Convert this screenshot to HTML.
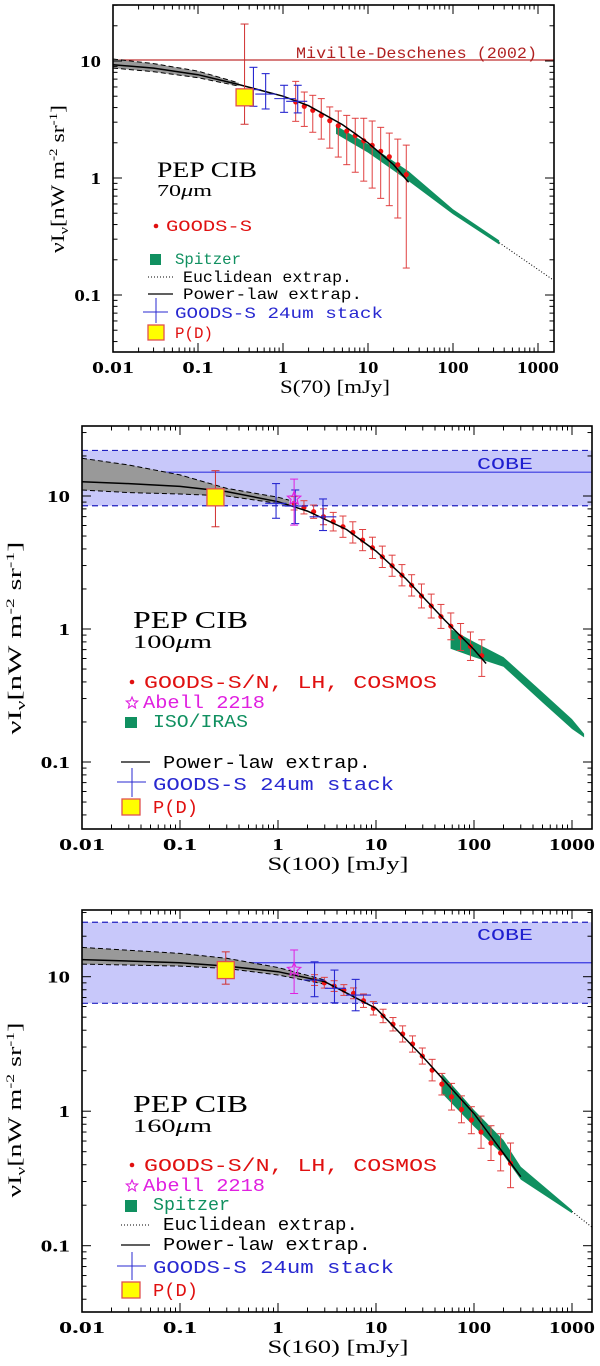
<!DOCTYPE html>
<html><head><meta charset="utf-8">
<style>
html,body{margin:0;padding:0;background:#fff;}
svg{display:block;}
text{font-family:"Liberation Serif",serif;}
.tl{font-size:17px;fill:#000;}
.lg{font-family:"Liberation Mono",monospace;}
</style></head>
<body>
<svg id="fig" width="600" height="1366" viewBox="0 0 600 1366" xmlns="http://www.w3.org/2000/svg"></svg>
<script>
// ===== Panel 1 (70um) data =====
const p1RedS=[1.41,1.78,2.24,2.82,3.55,4.47,5.62,7.08,8.91,11.2,14.1,17.8,22.4,28.2];
const p1RedV=[4.47,4.10,3.79,3.43,3.09,2.80,2.52,2.30,2.08,1.90,1.69,1.52,1.30,1.07];
const p1RedHi=[6.70,5.43,5.09,4.77,4.05,3.74,3.43,3.24,3.24,3.07,2.71,2.42,2.15,1.91];
const p1RedLo=[3.05,2.76,2.46,2.15,1.80,1.51,1.30,1.12,0.94,0.82,0.67,0.58,0.455,0.17];
const p1BlueS=[0.449,0.625,1.03,1.49];
const p1BlueV=[5.69,5.22,4.77,4.52];
const p1BlueHi=[8.83,7.80,6.2,6.2];
const p1BlueLo=[4.10,3.89,3.64,3.6];
const p1BlueSL=[0.36,0.472,0.79,1.09];
const p1BlueSH=[0.55,0.837,1.41,1.93];
const p1PD=[0.353,4.89,20.7,2.88];
const p1LineS=[0.01,0.03,0.1,0.3,1,2,5,10,20,30];
const p1LineV=[9.3,8.7,7.64,6.3,5.0,4.15,2.86,2.0,1.30,0.92];
const p1GreyS=[0.01,0.03,0.1,0.3];
const p1GreyUp=[10.4,9.5,8.2,6.5];
const p1GreyLo=[8.7,8.1,7.2,6.1];
const p1GreenS=[4.2,10,30,100,350];
const p1GreenUp=[2.8,1.95,1.14,0.54,0.293];
const p1GreenLo=[2.38,1.65,0.94,0.49,0.27];
const p1EuclS=[350,1500];
const p1EuclV=[0.28,0.135];
const p1Miville=10.2;

// ===== Panel 2 (100um) data =====
const p2RedS=[1.46,1.84,2.31,2.91,3.66,4.6,5.8,7.3,9.2,11.6,14.6,18.4,23.1,29.1,36.6,46,58,73,92,120];
const p2RedV=[8.81,8.22,7.62,6.98,6.41,5.88,5.32,4.66,4.08,3.49,2.99,2.54,2.13,1.77,1.49,1.24,1.05,0.87,0.74,0.63];
const p2RedHi=[9.89,9.22,8.55,8.01,7.53,7.07,6.40,5.60,4.90,4.20,3.59,3.05,2.56,2.18,1.83,1.53,1.32,1.10,0.95,0.83];
const p2RedLo=[7.85,7.33,6.79,6.08,5.46,4.89,4.43,3.88,3.39,2.90,2.49,2.11,1.77,1.44,1.21,1.01,0.83,0.69,0.58,0.44];
const p2BlueS=[0.955,1.5,2.88];
const p2BlueV=[8.81,8.4,6.98];
const p2BlueHi=[12.4,11.1,9.5];
const p2BlueLo=[6.8,6.2,5.5];
const p2BlueSL=[0.74,1.17,2.1];
const p2BlueSH=[1.22,2.0,3.94];
const p2PD=[0.23,9.77,15.5,5.87];
const p2Star=[1.46,9.6,13.4,6.04];
const p2LineS=[0.01,0.03,0.1,0.3,1,2,5,10,20,50,100,133];
const p2LineV=[12.8,12.4,11.8,10.8,9.06,7.7,5.6,3.85,2.4,1.17,0.70,0.55];
const p2GreyS=[0.01,0.03,0.1,0.3,1,1.3];
const p2GreyUp=[19.2,17.1,14.4,11.4,9.8,9.3];
const p2GreyLo=[11.1,10.6,10.35,10.0,8.8,8.6];
const p2GreenS=[57.7,100,200,500,1000,1330];
const p2GreenUp=[1.0,0.80,0.615,0.335,0.21,0.163];
const p2GreenLo=[0.71,0.615,0.52,0.28,0.177,0.153];
const p2Cobe=[15.1,22,8.45];

// ===== Panel 3 (160um) data =====
const p3RedS=[2.36,2.97,3.74,4.7,5.9,7.45,9.4,11.8,14.9,18.7,23.6,29.7,37.4,47,59,74.5,94,118,149,187,236];
const p3RedV=[9.44,9.02,8.52,7.96,7.52,6.63,5.82,5.11,4.43,3.75,3.16,2.57,2.02,1.59,1.28,1.03,0.86,0.70,0.58,0.49,0.41];
const p3RedHi=[10.35,9.89,9.34,8.73,8.25,7.44,6.53,5.73,4.97,4.31,3.63,2.95,2.43,1.91,1.61,1.30,1.08,0.92,0.78,0.68,0.58];
const p3RedLo=[8.61,8.23,7.77,7.26,6.86,5.91,5.19,4.55,3.95,3.27,2.75,2.24,1.68,1.32,1.02,0.82,0.68,0.53,0.43,0.36,0.27];
const p3BlueS=[2.36,3.77,6.2];
const p3BlueV=[9.44,8.2,7.3];
const p3BlueHi=[12.9,11.2,9.55];
const p3BlueLo=[7.1,6.4,5.58];
const p3BlueSL=[1.83,3.0,4.94];
const p3BlueSH=[3.0,4.94,8.9];
const p3PD=[0.293,11.2,15.3,8.8];
const p3Star=[1.46,11.3,15.8,7.5];
const p3LineS=[0.01,0.1,0.3,1,3,10,30,100,300];
const p3LineV=[13.4,12.7,12.0,10.9,9.18,5.82,2.54,0.96,0.326];
const p3GreyS=[0.01,0.1,0.3,1,3];
const p3GreyUp=[16.5,14.9,13.7,11.7,9.45];
const p3GreyLo=[12.4,12.0,11.5,10.3,8.8];
const p3GreenS=[47,100,200,300,1000];
const p3GreenUp=[1.91,1.02,0.61,0.386,0.184];
const p3GreenLo=[1.36,0.77,0.47,0.31,0.174];
const p3EuclS=[1000,1585];
const p3EuclV=[0.18,0.138];
const p3Cobe=[12.7,25.4,6.34];

const xTicks=[0.01,0.1,1,10,100,1000];
const xTickLabels=["0.01","0.1","1","10","100","1000"];
const yTicks=[0.1,1,10];
const yTickLabels=["0.1","1","10"];

const NS="http://www.w3.org/2000/svg";
const svg=document.getElementById('fig');
function mk(tag,attrs,parent){const e=document.createElementNS(NS,tag);for(const k in attrs)e.setAttribute(k,attrs[k]);(parent||svg).appendChild(e);return e;}
const L=Math.log10;

function makeAxes(x0,dx,yRef,dy,left,right,top,bottom){
  return {X:s=>x0+(L(s)+2)*dx, Y:v=>yRef+(1-L(v))*dy,left,right,top,bottom};
}
function pts(a,S,V){return S.map((s,i)=>a.X(s).toFixed(1)+','+a.Y(V[i]).toFixed(1)).join(' ');}

function frame(g,a,xtitle,xtc,xtw,ytx,ytc,ytw,cw){
  const r=mk('rect',{x:a.left,y:a.top,width:a.right-a.left,height:a.bottom-a.top,fill:'none',stroke:'#000','stroke-width':1.6},g);
  
  
  const tg=mk('g',{stroke:'#000','stroke-width':1},g);
  
  
  for(let d=-2;d<=3;d++){for(let m=1;m<=9;m++){const s=m*Math.pow(10,d);const x=a.X(s);if(x>a.right)continue;const len=m===1?9:4.5;
    mk('line',{x1:x,y1:a.bottom,x2:x,y2:a.bottom-len},tg);mk('line',{x1:x,y1:a.top,x2:x,y2:a.top+len},tg);}}
  for(let d=-2;d<=1;d++){for(let m=1;m<=9;m++){const v=m*Math.pow(10,d);const y=a.Y(v);if(y<a.top||y>a.bottom)continue;const len=m===1?9:4.5;
    mk('line',{x1:a.left,y1:y,x2:a.left+len,y2:y},tg);mk('line',{x1:a.right,y1:y,x2:a.right-len,y2:y},tg);}}
  xTicks.forEach((t,i)=>{const w=xTickLabels[i].length*cw;
    const e=mk('text',{x:a.X(t)-w/2,y:a.bottom+21,class:'tl','font-weight':'bold',textLength:w,lengthAdjust:'spacingAndGlyphs'},g);e.textContent=xTickLabels[i];
    });
  yTicks.forEach((t,i)=>{const w=yTickLabels[i].length*cw*(yTickLabels[i]==='0.1'?0.85:1);
    const e=mk('text',{x:a.left-12-w,y:a.Y(t)+6,class:'tl','font-weight':'bold',textLength:w,lengthAdjust:'spacingAndGlyphs'},g);e.textContent=yTickLabels[i];
    });
  const xt=mk('text',{x:xtc-xtw/2,y:a.bottom+41,'font-size':'19px',textLength:xtw,lengthAdjust:'spacingAndGlyphs'},g);xt.textContent=xtitle;
  
  const yt=mk('text',{x:ytc-ytw/2,y:ytx+6,'font-size':'19px',transform:`rotate(-90 ${ytc} ${ytx})`,textLength:ytw,lengthAdjust:'spacingAndGlyphs'},g);
  yt.setAttribute('x',ytc-ytw/2);yt.setAttribute('y',ytx+6);
  yt.setAttribute('transform',`rotate(-90 ${ytc} ${ytx})`);
  yt.innerHTML='νI<tspan font-size="13" dy="4">ν</tspan><tspan dy="-4">[nW m</tspan><tspan font-size="12" dy="-7">-2</tspan><tspan dy="7"> sr</tspan><tspan font-size="12" dy="-7">-1</tspan><tspan dy="7">]</tspan>';
  
}

function cobe(g,a,c){
  const b=mk('rect',{x:a.left,y:a.Y(c[1]),width:a.right-a.left,height:a.Y(c[2])-a.Y(c[1]),fill:'#c8c8fa'},g);
  
  [c[1],c[2]].forEach(v=>{const l=mk('line',{x1:a.left,x2:a.right,y1:a.Y(v),y2:a.Y(v),stroke:'#2020c0','stroke-width':1.2,'stroke-dasharray':'6,4'},g);
    });
  const l=mk('line',{x1:a.left,x2:a.right,y1:a.Y(c[0]),y2:a.Y(c[0]),stroke:'#3838e0','stroke-width':1.2},g);
  
}
function grey(g,a,S,U,Lo){
  const p=mk('polygon',{points:pts(a,S,U)+' '+pts(a,S.slice().reverse(),Lo.slice().reverse()),fill:'#999'},g);
  
  [U,Lo].forEach(V=>{const q=mk('polyline',{points:pts(a,S,V),fill:'none',stroke:'#000','stroke-width':1,'stroke-dasharray':'5,3'},g);
    });
}
function green(g,a,S,U,Lo,name){
  const p=mk('polygon',{points:pts(a,S,U)+' '+pts(a,S.slice().reverse(),Lo.slice().reverse()),fill:'#109060'},g);
  
}
function line(g,a,S,V,name,dash){
  const q=mk('polyline',{points:pts(a,S,V),fill:'none',stroke:'#000','stroke-width':dash?1:1.5,'stroke-dasharray':dash||'none'},g);
  
}
function red(g,a,S,V,H,Lo){
  S.forEach((s,i)=>{const x=a.X(s);
    const e=mk('g',{stroke:'#e04040','stroke-width':1},g);
    
    mk('line',{x1:x,x2:x,y1:a.Y(H[i]),y2:a.Y(Lo[i])},e);
    mk('line',{x1:x-3.5,x2:x+3.5,y1:a.Y(H[i]),y2:a.Y(H[i])},e);
    mk('line',{x1:x-3.5,x2:x+3.5,y1:a.Y(Lo[i]),y2:a.Y(Lo[i])},e);
    mk('circle',{cx:x,cy:a.Y(V[i]),r:2.6,fill:'#ee1111',stroke:'none'},e);});
}
function blue(g,a,S,V,H,Lo,SL,SH){
  S.forEach((s,i)=>{const x=a.X(s),y=a.Y(V[i]);
    const e=mk('g',{stroke:'#2828d0','stroke-width':1.1},g);
    
    mk('line',{x1:x,x2:x,y1:a.Y(H[i]),y2:a.Y(Lo[i])},e);
    mk('line',{x1:x-4,x2:x+4,y1:a.Y(H[i]),y2:a.Y(H[i])},e);
    mk('line',{x1:x-4,x2:x+4,y1:a.Y(Lo[i]),y2:a.Y(Lo[i])},e);
    mk('line',{x1:a.X(SL[i]),x2:a.X(SH[i]),y1:y,y2:y},e);});
}
function pd(g,a,p){
  const x=a.X(p[0]),y=a.Y(p[1]);
  const e=mk('g',{},g);
  mk('line',{x1:x,x2:x,y1:a.Y(p[2]),y2:a.Y(p[3]),stroke:'#d03030','stroke-width':1},e);
  mk('line',{x1:x-4,x2:x+4,y1:a.Y(p[2]),y2:a.Y(p[2]),stroke:'#d03030'},e);
  mk('line',{x1:x-4,x2:x+4,y1:a.Y(p[3]),y2:a.Y(p[3]),stroke:'#d03030'},e);
  mk('rect',{x:x-8.5,y:y-8.5,width:17,height:17,fill:'#ffff00',stroke:'#e05050','stroke-width':1.3},e);
}
function star(g,a,p){
  const x=a.X(p[0]),y=a.Y(p[1]);
  const e=mk('g',{stroke:'#e020e0',fill:'none','stroke-width':1},g);
  mk('line',{x1:x,x2:x,y1:a.Y(p[2]),y2:a.Y(p[3])},e);
  mk('line',{x1:x-4,x2:x+4,y1:a.Y(p[2]),y2:a.Y(p[2])},e);
  mk('line',{x1:x-4,x2:x+4,y1:a.Y(p[3]),y2:a.Y(p[3])},e);
  starShape(e,x,y,7);
}
function starShape(e,x,y,r){let s='';for(let k=0;k<10;k++){const rr=k%2?r*0.45:r;const an=-Math.PI/2+k*Math.PI/5;s+=(x+rr*Math.cos(an)).toFixed(1)+','+(y+rr*Math.sin(an)).toFixed(1)+' ';}
  mk('polygon',{points:s,fill:'none',stroke:'#e020e0','stroke-width':1.1},e);}
function txt(g,x,y,s,col,size,name,cls,w){const at={x,y,fill:col,'font-size':size+'px',class:cls||''};if(w){at.textLength=w;at.lengthAdjust='spacingAndGlyphs';}
  const e=mk('text',at,g);e.innerHTML=s;return e;}

// ---------- Panel 1 ----------
{const g=mk('g',{});
 const a=makeAxes(113,85,61,117,113,554,5,352);
 const m=mk('line',{x1:a.left,x2:a.right,y1:a.Y(p1Miville),y2:a.Y(p1Miville),stroke:'#c03030','stroke-width':1.2},g);
 
 txt(g,296,58,'Miville-Deschenes (2002)','#b02020',16,'miville-label','lg',241);
 grey(g,a,p1GreyS,p1GreyUp,p1GreyLo);
 green(g,a,p1GreenS,p1GreenUp,p1GreenLo,'spitzer-band');
 line(g,a,p1EuclS,p1EuclV,'euclidean-extrap','1,2');
 red(g,a,p1RedS,p1RedV,p1RedHi,p1RedLo);
 line(g,a,p1LineS,p1LineV,'powerlaw-extrap');
 blue(g,a,p1BlueS,p1BlueV,p1BlueHi,p1BlueLo,p1BlueSL,p1BlueSH);
 pd(g,a,p1PD);
 frame(g,a,'S(70) [mJy]',335,110,179,58,148,10.5);
 txt(g,157,177,'PEP CIB','#000',22,'panel-title','',100);
 txt(g,157,196,'70<tspan font-style="italic">μ</tspan>m','#000',17,'panel-wavelength','',55);
 mk('circle',{cx:156,cy:226,r:2.3,fill:'#e01010'},g);
 txt(g,166,231,'GOODS-S','#e01010',16,'legend-goods','lg',86);
 mk('rect',{x:150,y:254,width:11,height:11,fill:'#109060'},g);
 txt(g,175,264,'Spitzer','#109060',16,'legend-spitzer','lg',66);
 mk('line',{x1:148,x2:173,y1:277,y2:277,stroke:'#000','stroke-dasharray':'1,2'},g);
 txt(g,183,282,'Euclidean extrap.','#000',16,'legend-euclidean','lg',169);
 mk('line',{x1:148,x2:173,y1:294,y2:294,stroke:'#000','stroke-width':1.2},g);
 txt(g,183,299,'Power-law extrap.','#000',16,'legend-powerlaw','lg',179);
 mk('line',{x1:143,x2:168,y1:312,y2:312,stroke:'#2828d0'},g);mk('line',{x1:156,x2:156,y1:298,y2:323,stroke:'#2828d0'},g);
 txt(g,175,318,'GOODS-S 24um stack','#2828d0',16,'legend-stack','lg',208);
 mk('rect',{x:148,y:325,width:16,height:15,fill:'#ffff00',stroke:'#e05050','stroke-width':1.3},g);
 txt(g,175,338,'P(D)','#e01010',16,'legend-pd','lg',38);
}
// ---------- Panel 2 ----------
{const g=mk('g',{});
 const a=makeAxes(82,98,496,133,82,592,426,829);
 cobe(g,a,p2Cobe);
 txt(g,477,469,'COBE','#2020d0',17,'cobe-label','lg',56);
 grey(g,a,p2GreyS,p2GreyUp,p2GreyLo);
 green(g,a,p2GreenS,p2GreenUp,p2GreenLo,'iso-iras-band');
 red(g,a,p2RedS,p2RedV,p2RedHi,p2RedLo);
 line(g,a,p2LineS,p2LineV,'powerlaw-extrap');
 blue(g,a,p2BlueS,p2BlueV,p2BlueHi,p2BlueLo,p2BlueSL,p2BlueSH);
 star(g,a,p2Star);
 pd(g,a,p2PD);
 frame(g,a,'S(100) [mJy]',338,141,638,15,193,11.5);
 txt(g,133,628,'PEP CIB','#000',24,'panel-title','',115);
 txt(g,133,648,'100<tspan font-style="italic">μ</tspan>m','#000',19,'panel-wavelength','',79);
 mk('circle',{cx:132,cy:682,r:2.3,fill:'#e01010'},g);
 txt(g,144,688,'GOODS-S/N, LH, COSMOS','#e01010',18,'legend-goods','lg',293);
 {const e=mk('g',{},g);starShape(e,132,703,6);}
 txt(g,143,708,'Abell 2218','#e020e0',18,'legend-abell','lg',122);
 mk('rect',{x:125,y:717,width:12,height:11,fill:'#109060'},g);
 txt(g,153,727,'ISO/IRAS','#109060',18,'legend-iso','lg',95);
 mk('line',{x1:121,x2:150,y1:762,y2:762,stroke:'#000','stroke-width':1.2},g);
 txt(g,163,768,'Power-law extrap.','#000',18,'legend-powerlaw','lg',208);
 mk('line',{x1:117,x2:146,y1:782,y2:782,stroke:'#2828d0'},g);mk('line',{x1:132,x2:132,y1:768,y2:797,stroke:'#2828d0'},g);
 txt(g,153,790,'GOODS-S 24um stack','#2828d0',18,'legend-stack','lg',241);
 mk('rect',{x:122,y:799,width:18,height:16,fill:'#ffff00',stroke:'#e05050','stroke-width':1.3},g);
 txt(g,153,813,'P(D)','#e01010',18,'legend-pd','lg',45);
}
// ---------- Panel 3 ----------
{const g=mk('g',{});
 const a=makeAxes(82,98,976.7,134.5,82,592,910,1312);
 cobe(g,a,p3Cobe);
 txt(g,477,940,'COBE','#2020d0',17,'cobe-label','lg',56);
 grey(g,a,p3GreyS,p3GreyUp,p3GreyLo);
 green(g,a,p3GreenS,p3GreenUp,p3GreenLo,'spitzer-band');
 line(g,a,p3EuclS,p3EuclV,'euclidean-extrap','1,2');
 red(g,a,p3RedS,p3RedV,p3RedHi,p3RedLo);
 line(g,a,p3LineS,p3LineV,'powerlaw-extrap');
 blue(g,a,p3BlueS,p3BlueV,p3BlueHi,p3BlueLo,p3BlueSL,p3BlueSH);
 star(g,a,p3Star);
 pd(g,a,p3PD);
 frame(g,a,'S(160) [mJy]',338,141,1110,15,175,11.5);
 txt(g,133,1112,'PEP CIB','#000',24,'panel-title','',115);
 txt(g,133,1132,'160<tspan font-style="italic">μ</tspan>m','#000',19,'panel-wavelength','',79);
 mk('circle',{cx:132,cy:1165,r:2.3,fill:'#e01010'},g);
 txt(g,144,1171,'GOODS-S/N, LH, COSMOS','#e01010',18,'legend-goods','lg',293);
 {const e=mk('g',{},g);starShape(e,132,1186,6);}
 txt(g,143,1191,'Abell 2218','#e020e0',18,'legend-abell','lg',122);
 mk('rect',{x:125,y:1200,width:12,height:12,fill:'#109060'},g);
 txt(g,153,1210,'Spitzer','#109060',18,'legend-spitzer','lg',77);
 mk('line',{x1:121,x2:150,y1:1225,y2:1225,stroke:'#000','stroke-dasharray':'1,2'},g);
 txt(g,163,1230,'Euclidean extrap.','#000',18,'legend-euclidean','lg',195);
 mk('line',{x1:121,x2:150,y1:1245,y2:1245,stroke:'#000','stroke-width':1.2},g);
 txt(g,163,1250,'Power-law extrap.','#000',18,'legend-powerlaw','lg',208);
 mk('line',{x1:117,x2:146,y1:1266,y2:1266,stroke:'#2828d0'},g);mk('line',{x1:132,x2:132,y1:1252,y2:1280,stroke:'#2828d0'},g);
 txt(g,153,1273,'GOODS-S 24um stack','#2828d0',18,'legend-stack','lg',241);
 mk('rect',{x:122,y:1282,width:18,height:16,fill:'#ffff00',stroke:'#e05050','stroke-width':1.3},g);
 txt(g,153,1296,'P(D)','#e01010',18,'legend-pd','lg',45);
}
</script>
</body></html>
